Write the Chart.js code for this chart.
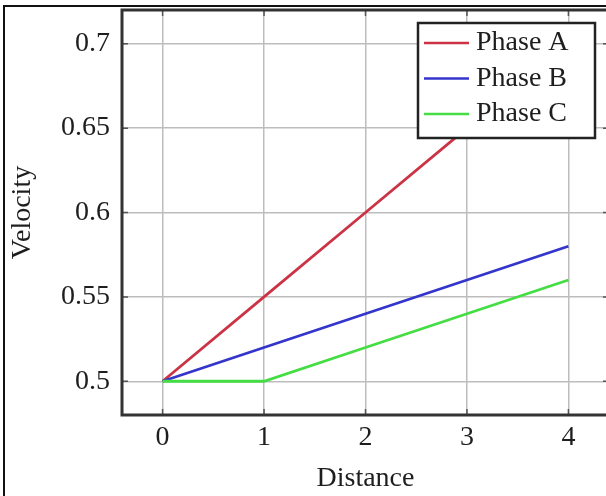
<!DOCTYPE html>
<html>
<head>
<meta charset="utf-8">
<script src="https://cdn.jsdelivr.net/npm/chart.js@4.4.0/dist/chart.umd.min.js"></script>
<style>
    html, body { margin: 0; padding: 0; background: #fff; overflow: hidden; width: 606px; height: 496px; }
    #frame { position: absolute; left: 3px; top: 5px; width: 700px; height: 600px; border: 2px solid #111; }
    #wrap { position: absolute; left: 0; top: 0; width: 614px; height: 496px; }
</style>
</head>
<body>
<div id="frame"></div>
<div id="wrap"><canvas id="chart" width="614" height="496"></canvas></div>
<script>
// datos del grafico
const distancias = [0, 1, 2, 3, 4];
const faseA = [0.5, 0.55, 0.6, 0.65, 0.7];
const faseB = [0.5, 0.52, 0.54, 0.56, 0.58];
const faseC = [0.5, 0.5, 0.52, 0.54, 0.56];
const nombresSeries = ['Phase A', 'Phase B', 'Phase C'];
const coloresSeries = ['#cc3344', '#3535cc', '#44dd44'];
const xTicks = [0, 1, 2, 3, 4];
const yTicks = [0.5, 0.55, 0.6, 0.65, 0.7];
const yTickLabels = ['0.5', '0.55', '0.6', '0.65', '0.7'];

const fuente = 'Liberation Serif';
const colorTexto = '#1e1e1e';

function puntos(valores) {
    return distancias.map((d, i) => ({ x: d, y: valores[i] }));
}

// marco, marcas de ticks y leyenda con recuadro
const marcoPlugin = {
    id: 'marco',
    afterDraw(chart) {
        const ctx = chart.ctx;
        const a = chart.chartArea;
        const sx = chart.scales.x, sy = chart.scales.y;
        ctx.save();
        ctx.strokeStyle = '#555';
        ctx.lineWidth = 1.5;
        xTicks.forEach(v => {
            const px = sx.getPixelForValue(v);
            ctx.beginPath();
            ctx.moveTo(px, a.bottom); ctx.lineTo(px, a.bottom - 6);
            ctx.moveTo(px, a.top); ctx.lineTo(px, a.top + 6);
            ctx.stroke();
        });
        yTicks.forEach(v => {
            const py = sy.getPixelForValue(v);
            ctx.beginPath();
            ctx.moveTo(a.left, py); ctx.lineTo(a.left + 6, py);
            ctx.moveTo(a.right, py); ctx.lineTo(a.right - 6, py);
            ctx.stroke();
        });
        ctx.strokeStyle = '#333';
        ctx.lineWidth = 3;
        ctx.strokeRect(a.left, a.top, a.right - a.left, a.bottom - a.top);

        // leyenda
        const x = a.right - 191, y = a.top + 13, w = 177, h = 115;
        ctx.fillStyle = '#fff';
        ctx.fillRect(x, y, w, h);
        ctx.strokeStyle = '#222';
        ctx.lineWidth = 2.5;
        ctx.strokeRect(x, y, w, h);
        ctx.font = '28px "' + fuente + '"';
        ctx.textBaseline = 'middle';
        chart.data.datasets.forEach((ds, i) => {
            const cy = y + 20 + i * 35.5;
            ctx.strokeStyle = ds.borderColor;
            ctx.lineWidth = 2.5;
            ctx.beginPath();
            ctx.moveTo(x + 6, cy); ctx.lineTo(x + 51, cy);
            ctx.stroke();
            ctx.fillStyle = colorTexto;
            ctx.fillText(ds.label, x + 58, cy);
        });
        ctx.restore();
    }
};

const ctx = document.getElementById('chart').getContext('2d');
const chart = new Chart(ctx, {
    type: 'line',
    data: {
        datasets: [faseA, faseB, faseC].map((serie, i) => ({
            label: nombresSeries[i],
            data: puntos(serie),
            borderColor: coloresSeries[i],
            borderWidth: 2.8,
            pointRadius: 0,
            fill: false,
            tension: 0,
            order: 3 - i
        }))
    },
    options: {
        responsive: false,
        animation: false,
        layout: { padding: { top: 10, right: 5, left: 0, bottom: 0 } },
        plugins: { legend: { display: false }, tooltip: { enabled: false } },
        scales: {
            x: {
                type: 'linear',
                min: -0.4,
                max: 4.4,
                afterBuildTicks: s => { s.ticks = xTicks.map(v => ({ value: v })); },
                afterFit: s => { s.height = 81; s.paddingLeft = 0; s.paddingRight = 0; },
                ticks: {
                    padding: 6,
                    color: colorTexto,
                    font: { family: fuente, size: 28 },
                    callback: v => String(v)
                },
                grid: { color: '#bdbdbd', lineWidth: 1.5, drawTicks: false },
                border: { display: false },
                title: {
                    display: true,
                    text: 'Distance',
                    color: colorTexto,
                    font: { family: fuente, size: 28 },
                    padding: { top: 0, bottom: 1 }
                }
            },
            y: {
                type: 'linear',
                min: 0.48,
                max: 0.72,
                afterBuildTicks: s => { s.ticks = yTicks.map(v => ({ value: v })); },
                afterFit: s => { s.width = 122; s.paddingTop = 0; s.paddingBottom = 0; },
                ticks: {
                    padding: 12,
                    color: colorTexto,
                    font: { family: fuente, size: 28 },
                    callback: (v, i) => yTickLabels[i]
                },
                grid: { color: '#bdbdbd', lineWidth: 1.5, drawTicks: false },
                border: { display: false },
                title: {
                    display: true,
                    text: 'Velocity',
                    color: colorTexto,
                    font: { family: fuente, size: 28 },
                    padding: { top: 6, bottom: 0 }
                }
            }
        }
    },
    plugins: [marcoPlugin]
});
</script>
</body>
</html>
